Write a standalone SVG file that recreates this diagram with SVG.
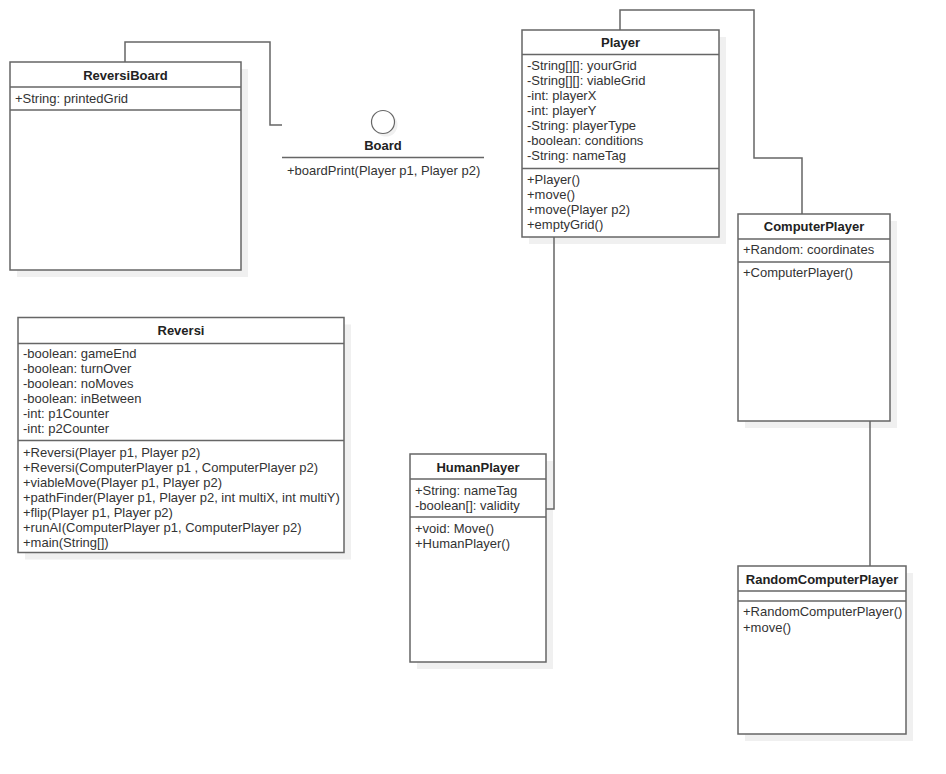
<svg xmlns="http://www.w3.org/2000/svg" width="946" height="774" viewBox="0 0 946 774">
<style>
.box{fill:#fff;stroke:#666;stroke-width:1.5}
.sh{fill:#f0f0f0}
.div{stroke:#666;stroke-width:1.5;fill:none}
.t{font-family:"Liberation Sans",Arial,sans-serif;font-size:13px;fill:#333}
.b{font-family:"Liberation Sans",Arial,sans-serif;font-size:13px;font-weight:bold;fill:#222;text-anchor:middle}
.c{stroke:#666;stroke-width:1.5;fill:none}
</style>
<rect width="946" height="774" fill="#fff"/>
<g id="ReversiBoard">
<rect class="sh" x="17" y="69" width="231" height="208"/>
<rect class="box" x="10" y="62" width="231" height="208"/>
<line class="div" x1="10" y1="87" x2="241" y2="87"/>
<line class="div" x1="10" y1="110" x2="241" y2="110"/>
<text class="b" x="125.5" y="79.5">ReversiBoard</text>
<text class="t" x="15" y="103">+String: printedGrid</text>
</g>
<g id="Board">
<circle class="sh" cx="386" cy="125" r="11.5"/>
<circle cx="383" cy="122" r="11.5" fill="#fff" stroke="#666" stroke-width="1.2"/>
<text class="b" x="383" y="150">Board</text>
<line class="div" x1="282" y1="157.5" x2="484" y2="157.5"/>
<text class="t" x="287" y="174.5">+boardPrint(Player p1, Player p2)</text>
</g>
<g id="Player">
<rect class="sh" x="529" y="37" width="197" height="207"/>
<rect class="box" x="522" y="30" width="197" height="207"/>
<line class="div" x1="522" y1="54.5" x2="719" y2="54.5"/>
<line class="div" x1="522" y1="168.5" x2="719" y2="168.5"/>
<text class="b" x="620.5" y="47">Player</text>
<text class="t" x="527" y="69.5">-String[][]: yourGrid</text>
<text class="t" x="527" y="84.5">-String[][]: viableGrid</text>
<text class="t" x="527" y="99.5">-int: playerX</text>
<text class="t" x="527" y="114.5">-int: playerY</text>
<text class="t" x="527" y="129.5">-String: playerType</text>
<text class="t" x="527" y="144.5">-boolean: conditions</text>
<text class="t" x="527" y="159.5">-String: nameTag</text>
<text class="t" x="527" y="183.5">+Player()</text>
<text class="t" x="527" y="198.5">+move()</text>
<text class="t" x="527" y="213.5">+move(Player p2)</text>
<text class="t" x="527" y="228.5">+emptyGrid()</text>
</g>
<g id="ComputerPlayer">
<rect class="sh" x="745" y="221" width="152" height="207"/>
<rect class="box" x="738" y="214" width="152" height="207"/>
<line class="div" x1="738" y1="239" x2="890" y2="239"/>
<line class="div" x1="738" y1="262" x2="890" y2="262"/>
<text class="b" x="814" y="231">ComputerPlayer</text>
<text class="t" x="743" y="254">+Random: coordinates</text>
<text class="t" x="743" y="277">+ComputerPlayer()</text>
</g>
<g id="Reversi">
<rect class="sh" x="25" y="324.5" width="326" height="235"/>
<rect class="box" x="18" y="317.5" width="326" height="235"/>
<line class="div" x1="18" y1="343.5" x2="344" y2="343.5"/>
<line class="div" x1="18" y1="440.5" x2="344" y2="440.5"/>
<text class="b" x="181" y="335">Reversi</text>
<text class="t" x="23" y="358">-boolean: gameEnd</text>
<text class="t" x="23" y="373">-boolean: turnOver</text>
<text class="t" x="23" y="388">-boolean: noMoves</text>
<text class="t" x="23" y="403">-boolean: inBetween</text>
<text class="t" x="23" y="418">-int: p1Counter</text>
<text class="t" x="23" y="433">-int: p2Counter</text>
<text class="t" x="23" y="457">+Reversi(Player p1, Player p2)</text>
<text class="t" x="23" y="472">+Reversi(ComputerPlayer p1 , ComputerPlayer p2)</text>
<text class="t" x="23" y="487">+viableMove(Player p1, Player p2)</text>
<text class="t" x="23" y="502">+pathFinder(Player p1, Player p2, int multiX, int multiY)</text>
<text class="t" x="23" y="517">+flip(Player p1, Player p2)</text>
<text class="t" x="23" y="532">+runAI(ComputerPlayer p1, ComputerPlayer p2)</text>
<text class="t" x="23" y="547">+main(String[])</text>
</g>
<g id="HumanPlayer">
<rect class="sh" x="417" y="461" width="136" height="208"/>
<rect class="box" x="410" y="454" width="136" height="208"/>
<line class="div" x1="410" y1="479" x2="546" y2="479"/>
<line class="div" x1="410" y1="517" x2="546" y2="517"/>
<text class="b" x="478" y="472">HumanPlayer</text>
<text class="t" x="415" y="495">+String: nameTag</text>
<text class="t" x="415" y="510">-boolean[]: validity</text>
<text class="t" x="415" y="533">+void: Move()</text>
<text class="t" x="415" y="548">+HumanPlayer()</text>
</g>
<g id="RandomComputerPlayer">
<rect class="sh" x="745" y="573" width="168" height="168"/>
<rect class="box" x="738" y="566" width="168" height="168"/>
<line class="div" x1="738" y1="591" x2="906" y2="591"/>
<line class="div" x1="738" y1="601" x2="906" y2="601"/>
<text class="b" x="822" y="583.5">RandomComputerPlayer</text>
<text class="t" x="743" y="616">+RandomComputerPlayer()</text>
<text class="t" x="743" y="631.5">+move()</text>
</g>
<g id="connectors">
<polyline class="c" points="125,62 125,42 270,42 270,125 282,125"/>
<polyline class="c" points="620,30 620,10 754,10 754,158 802,158 802,214"/>
<polyline class="c" points="554,237 554,509 546,509"/>
<line class="c" x1="870" y1="421" x2="870" y2="566"/>
</g>
</svg>
